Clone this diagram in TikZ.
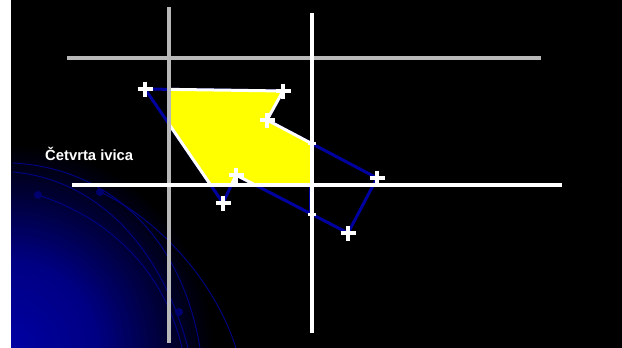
\documentclass[tikz,border=0pt]{standalone}
\usepackage{fontspec}
\setmainfont{Liberation Sans}
\definecolor{polyblue}{RGB}{0,0,160}
\definecolor{arcblue}{RGB}{0,0,135}
\definecolor{dotblue}{RGB}{0,0,110}
\definecolor{gridgray}{RGB}{184,184,184}
\definecolor{glowA}{RGB}{0,0,165}
\definecolor{glowB}{RGB}{0,0,130}
\definecolor{polyyellow}{RGB}{255,255,0}
\begin{document}
\begin{tikzpicture}[x=1pt,y=-1pt,
  grayline/.style={draw=gridgray,line width=4pt},
  whiteline/.style={draw=white,line width=4pt},
  blueedge/.style={draw=polyblue,line width=3pt,line join=round},
  whiteedge/.style={draw=white,line width=3pt,line join=round},
  crossline/.style={draw=white,line width=3.8pt},
  smallcross/.style={draw=white,line width=2.5pt},
  arcline/.style={draw=arcblue,line width=0.9pt},
  dotmark/.style={fill=dotblue},
  labeltext/.style={text=white,font=\bfseries\fontsize{14.8}{17}\selectfont,inner sep=0pt}]
\useasboundingbox (0,0) rectangle (622,348);
\fill[white] (0,0) rectangle (622,348);
\fill[black] (11,0) rectangle (622,348);
% background glow and arcs
\begin{scope}
  \clip (11,0) rectangle (622,348);
  \foreach \r in {205,201,...,89}{
    \pgfmathtruncatemacro{\pc}{(205-\r)/116*100}
    \fill[glowB!\pc!black] (11,348) circle (\r pt);
  }
  \foreach \r in {85,80,...,5}{
    \pgfmathtruncatemacro{\pc}{(90-\r)/90*100}
    \fill[glowA!\pc!glowB] (11,348) circle (\r pt);
  }
  \draw[arcline] (13,163) .. controls (110,168) and (182,238) .. (200,348);
  \draw[arcline] (13,172) .. controls (100,180) and (162,250) .. (188,348);
  \draw[arcline] (38,195) .. controls (100,215) and (162,262) .. (182,348);
  \draw[arcline] (100,192) .. controls (160,220) and (215,282) .. (236,348);
  \fill[dotmark] (38,195) circle (4pt);
  \fill[dotmark] (100,192) circle (4pt);
  \fill[dotmark] (179,312) circle (4pt);
\end{scope}
% polygon vertices
\coordinate (P1) at (145,89);
\coordinate (P2) at (283,91);
\coordinate (P3) at (267,120);
\coordinate (P4) at (377,178);
\coordinate (P5) at (348,233);
\coordinate (P6) at (236,175);
\coordinate (P7) at (223,203);
\coordinate (I1) at (312,143.7);
\coordinate (I2) at (312,214.4);
% window
\coordinate (WL) at (169,58);
\coordinate (WR) at (312,185);
% full polygon in blue
\draw[blueedge] (P1) -- (P2) -- (P3) -- (P4) -- (P5) -- (P6) -- (P7) -- cycle;
% clipped polygon: yellow fill and white edges
\begin{scope}
  \clip (WL) rectangle (WR);
  \fill[polyyellow] (P1) -- (P2) -- (P3) -- (P4) -- (P5) -- (P6) -- (P7) -- cycle;
\end{scope}
\draw[draw=polyblue,line width=2.5pt] (310,185) -- (310,214.4);
\begin{scope}
  \clip (WL) rectangle (WR);
  \draw[whiteedge] (P1) -- (P2) -- (P3) -- (P4) -- (P5) -- (P6) -- (P7) -- cycle;
\end{scope}
% clipping lines
\coordinate (GV1) at (169,7);   \coordinate (GV2) at (169,343);
\coordinate (GH1) at (67,58);   \coordinate (GH2) at (541,58);
\coordinate (WV1) at (312,13);  \coordinate (WV2) at (312,333);
\coordinate (WH1) at (72,185);  \coordinate (WH2) at (562,185);
\draw[grayline] (GV1) -- (GV2);
\draw[grayline] (GH1) -- (GH2);
\draw[whiteline] (WV1) -- (WV2);
\draw[whiteline] (WH1) -- (WH2);
% vertex marks
\foreach \p in {P1,P2,P3,P4,P5,P6,P7}{
  \draw[crossline] (\p) ++(-7.5,0) -- ++(15,0);
  \draw[crossline] (\p) ++(0,-7.5) -- ++(0,15);
}
\foreach \p in {I1,I2}{
  \draw[smallcross] (\p) ++(-4,0) -- ++(8,0);
  \draw[smallcross] (\p) ++(0,-4) -- ++(0,8);
}
\node[labeltext,anchor=base west] (lbl) at (45,160) {Četvrta ivica};
\end{tikzpicture}
\end{document}
